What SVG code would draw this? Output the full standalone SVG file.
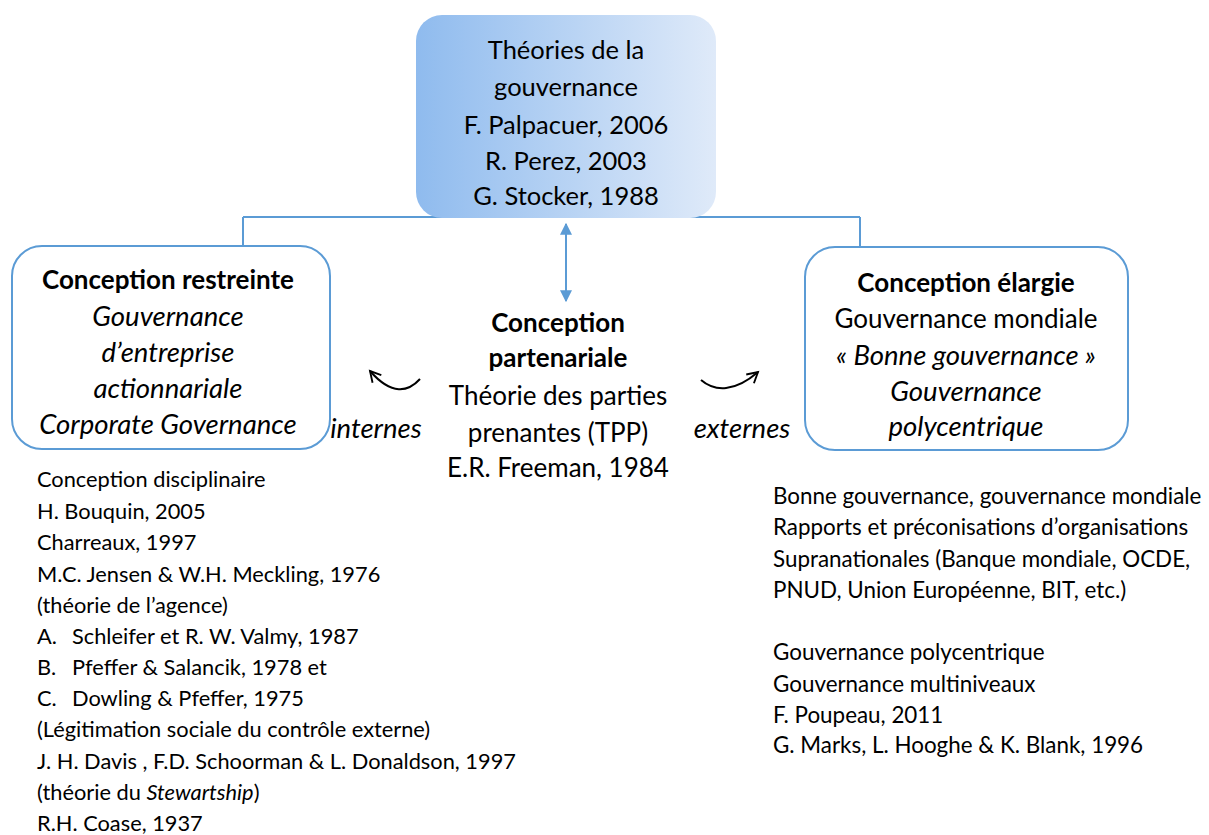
<svg xmlns="http://www.w3.org/2000/svg" width="1209" height="835" viewBox="0 0 1209 835">
<defs>
<linearGradient id="topGrad" x1="0" y1="0" x2="1" y2="0">
<stop offset="0" stop-color="#8fbbee"/>
<stop offset="1" stop-color="#dfeaf9"/>
</linearGradient>
<marker id="blueHead" viewBox="0 0 10 10" refX="9" refY="5" markerWidth="6" markerHeight="6" orient="auto-start-reverse">
<path d="M0,0 L10,5 L0,10 z" fill="#5b9bd5"/>
</marker>
<marker id="openHead" viewBox="0 0 12 12" refX="10" refY="6" markerWidth="14" markerHeight="14" markerUnits="userSpaceOnUse" orient="auto">
<path d="M1,1 L10,6 L1,11" fill="none" stroke="#000" stroke-width="1.6"/>
</marker>
</defs>
<style>
text { font-family: Lato, "Liberation Sans", sans-serif; fill: #000; }
.big { font-size: 26px; text-anchor: middle; }
.top { font-size: 25.5px; }
.b { font-weight: bold; }
.i { font-style: italic; font-size: 27.5px; }
.list { font-size: 21.8px; }
.rlist { font-size: 22.4px; }
.box { fill: #fff; stroke: #5b9bd5; stroke-width: 2; }
.conn { fill: none; stroke: #5b9bd5; stroke-width: 2; }
.curve { fill: none; stroke: #000; stroke-width: 2; }
</style>
<rect width="1209" height="835" fill="#fff"/>

<g id="connectors">
<path class="conn" d="M243,217 L860,217 M243,217 L243,246 M860,217 L860,248"/>
<line class="conn" x1="566" y1="224" x2="566" y2="301" marker-start="url(#blueHead)" marker-end="url(#blueHead)"/>
<path class="curve" d="M420,379 C408,392 392,396 370,371" marker-end="url(#openHead)"/>
<path class="curve" d="M701,380 C715,392 735,392 758,372" marker-end="url(#openHead)"/>
</g>

<g id="node-top">
<rect x="416" y="15" width="300" height="203" rx="26" fill="url(#topGrad)"/>
<text class="big top" x="566" y="59">Théories de la</text>
<text class="big top" x="566" y="96">gouvernance</text>
<text class="big top" x="566" y="134">F. Palpacuer, 2006</text>
<text class="big top" x="566" y="170">R. Perez, 2003</text>
<text class="big top" x="566" y="205">G. Stocker, 1988</text>
</g>

<g id="node-left">
<rect class="box" x="12" y="246" width="318" height="203" rx="30"/>
<text class="big b" x="168" y="289">Conception restreinte</text>
<text class="big i" x="168" y="326">Gouvernance</text>
<text class="big i" x="168" y="362">d’entreprise</text>
<text class="big i" x="168" y="398">actionnariale</text>
<text class="big i" x="168" y="434">Corporate Governance</text>
</g>

<g id="node-center">
<text class="big b" x="558" y="332">Conception</text>
<text class="big b" x="558" y="367">partenariale</text>
<text class="big" x="558" y="405">Théorie des parties</text>
<text class="big" x="558" y="442">prenantes (TPP)</text>
<text class="big" x="558" y="477">E.R. Freeman, 1984</text>
</g>

<g id="node-right">
<rect class="box" x="805" y="247" width="323" height="203" rx="30"/>
<text class="big b" x="966" y="292">Conception élargie</text>
<text class="big" x="966" y="328">Gouvernance mondiale</text>
<text class="big i" x="966" y="365">« Bonne gouvernance »</text>
<text class="big i" x="966" y="401">Gouvernance</text>
<text class="big i" x="966" y="436">polycentrique</text>
</g>

<g id="label-internes">
<text class="big i" x="376" y="438">internes</text>
</g>
<g id="label-externes">
<text class="big i" x="742" y="438">externes</text>
</g>

<g id="list-left">
<text class="list" x="37" y="487">Conception disciplinaire</text>
<text class="list" x="37" y="519">H. Bouquin, 2005</text>
<text class="list" x="37" y="550">Charreaux, 1997</text>
<text class="list" x="37" y="582">M.C. Jensen &amp; W.H. Meckling, 1976</text>
<text class="list" x="37" y="613">(théorie de l’agence)</text>
<text class="list" x="37" y="644">A.</text><text class="list" x="72" y="644">Schleifer et R. W. Valmy, 1987</text>
<text class="list" x="37" y="675">B.</text><text class="list" x="72" y="675">Pfeffer &amp; Salancik, 1978 et</text>
<text class="list" x="37" y="706">C.</text><text class="list" x="72" y="706">Dowling &amp; Pfeffer, 1975</text>
<text class="list" x="37" y="737">(Légitimation sociale du contrôle externe)</text>
<text class="list" x="37" y="769">J. H. Davis , F.D. Schoorman &amp; L. Donaldson, 1997</text>
<text class="list" x="37" y="800">(théorie du <tspan style="font-style:italic">Stewartship</tspan>)</text>
<text class="list" x="37" y="831">R.H. Coase, 1937</text>
</g>

<g id="list-right">
<text class="rlist" x="773" y="504">Bonne gouvernance, gouvernance mondiale</text>
<text class="rlist" x="773" y="535">Rapports et préconisations d’organisations</text>
<text class="rlist" x="773" y="567">Supranationales (Banque mondiale, OCDE,</text>
<text class="rlist" x="773" y="598">PNUD, Union Européenne, BIT, etc.)</text>
<text class="rlist" x="773" y="660">Gouvernance polycentrique</text>
<text class="rlist" x="773" y="692">Gouvernance multiniveaux</text>
<text class="rlist" x="773" y="723">F. Poupeau, 2011</text>
<text class="rlist" x="773" y="753">G. Marks, L. Hooghe &amp; K. Blank, 1996</text>
</g>
</svg>
